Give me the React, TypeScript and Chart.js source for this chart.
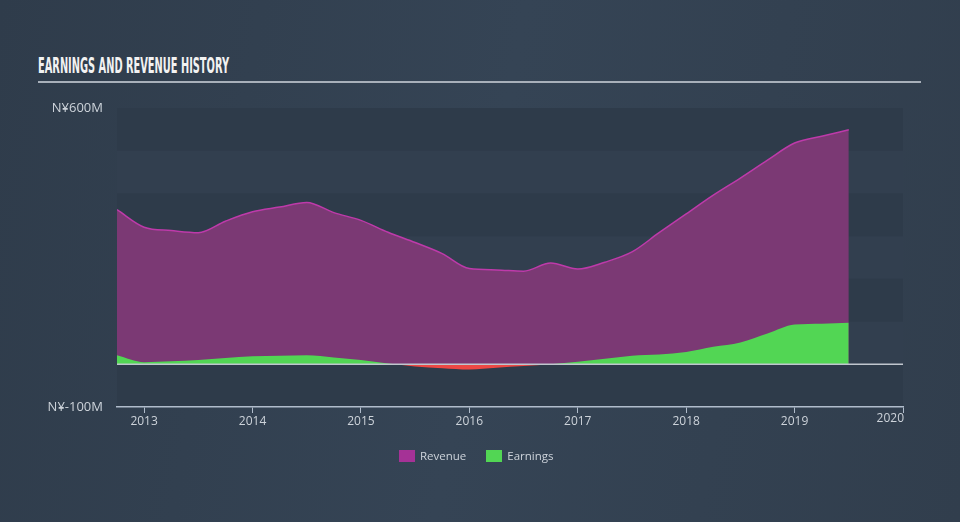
import React, { useEffect, useLayoutEffect, useRef } from 'react';
import { Chart, registerables } from 'chart.js';

Chart.register(...registerables);

// ---- data (N¥ millions) ----
const periods = [
  2012.75, 2013.0, 2013.25, 2013.5, 2013.75, 2014.0, 2014.25, 2014.5, 2014.75,
  2015.0, 2015.25, 2015.5, 2015.75, 2016.0, 2016.25, 2016.5, 2016.75,
  2017.0, 2017.25, 2017.5, 2017.75, 2018.0, 2018.25, 2018.5, 2018.75,
  2019.0, 2019.25, 2019.5,
];
const revenue = [
  362, 321, 313, 308, 335, 357, 368, 379, 355,
  337, 309, 285, 259, 224, 221, 218, 237,
  223, 239, 263, 308, 352, 396, 436, 478,
  518, 534, 549,
];
const earnings = [
  21, 5, 7, 10, 15, 19, 20, 21, 16,
  10, 2, -5, -9, -12, -8, -4, 0,
  6, 13, 20, 23, 29, 41, 51, 72,
  93, 95, 97,
];
const yLabelled = [600, -100];
const xYears = [2013, 2014, 2015, 2016, 2017, 2018, 2019, 2020];
const currency = 'N¥';
const seriesNames = ['Revenue', 'Earnings'];
const titleText = 'EARNINGS AND REVENUE HISTORY';

const COL = {
  bandLight: 'rgb(50,63,79)',
  bandDark: 'rgb(46,59,74)',
  revFill: 'rgb(123,57,116)',
  revLine: 'rgb(190,58,170)',
  revLegend: 'rgb(165,50,150)',
  earnUp: 'rgb(82,214,84)',
  earnDown: 'rgb(236,72,68)',
  axis: 'rgb(176,188,203)',
  zero: 'rgb(192,198,206)',
  text: 'rgb(205,211,218)',
};
const FONT = "'Open Sans', 'DejaVu Sans', sans-serif";

const bandsPlugin = {
  id: 'bands',
  beforeDraw(chart: any) {
    const { ctx, chartArea: a, scales } = chart;
    const y = scales.y;
    ctx.save();
    ctx.fillStyle = COL.bandLight;
    ctx.fillRect(a.left, a.top, a.right - a.left, a.bottom - a.top);
    const ticks = y.ticks.map((t: any) => t.value).sort((p: number, q: number) => p - q);
    for (let i = 0; i < ticks.length - 1; i++) {
      const lo = ticks[i];
      const hi = ticks[i + 1];
      if (i % 2 === 0) {
        const yt = y.getPixelForValue(hi);
        const yb = y.getPixelForValue(lo);
        ctx.fillStyle = COL.bandDark;
        ctx.fillRect(a.left, yt, a.right - a.left, yb - yt);
      }
    }
    ctx.restore();
  },
  afterDatasetsDraw(chart: any) {
    const { ctx, chartArea: a, scales } = chart;
    const y0 = scales.y.getPixelForValue(0);
    ctx.save();
    ctx.strokeStyle = COL.zero;
    ctx.lineWidth = 1.5;
    ctx.beginPath();
    ctx.moveTo(a.left, y0);
    ctx.lineTo(a.right, y0);
    ctx.stroke();
    ctx.restore();
  },
  afterDraw(chart: any) {
    // last x label is kept inside the plot's right edge
    const { ctx, scales } = chart;
    const x = scales.x;
    const last = xYears[xYears.length - 1];
    ctx.save();
    ctx.fillStyle = COL.text;
    ctx.font = `12px ${FONT}`;
    ctx.textAlign = 'right';
    ctx.textBaseline = 'top';
    ctx.fillText(String(last), x.getPixelForValue(last) + 1, x.top + 6);
    ctx.restore();
  },
};

function App() {
  const canvasRef = useRef<HTMLCanvasElement | null>(null);
  const titleRef = useRef<HTMLSpanElement | null>(null);

  useLayoutEffect(() => {
    const el = titleRef.current;
    if (el) {
      el.style.transform = 'none';
      const w = el.getBoundingClientRect().width;
      if (w > 0) el.style.transform = `scaleX(${191 / w})`;
    }
  }, []);

  useEffect(() => {
    const canvas = canvasRef.current;
    if (!canvas) return;
    const chart = new Chart(canvas, {
      type: 'line',
      data: {
        datasets: [
          {
            label: seriesNames[0],
            data: periods.map((p, i) => ({ x: p, y: revenue[i] })),
            borderColor: COL.revLine,
            borderWidth: 1.5,
            backgroundColor: COL.revFill,
            fill: 'origin',
            pointRadius: 0,
            cubicInterpolationMode: 'monotone',
            order: 2,
          },
          {
            label: seriesNames[1],
            data: periods.map((p, i) => ({ x: p, y: earnings[i] })),
            borderColor: 'rgba(0,0,0,0)',
            borderWidth: 1,
            backgroundColor: COL.earnUp,
            fill: { target: 'origin', above: COL.earnUp, below: COL.earnDown },
            pointRadius: 0,
            cubicInterpolationMode: 'monotone',
            order: 1,
          },
        ],
      },
      options: {
        responsive: false,
        animation: false,
        devicePixelRatio: 1,
        layout: { padding: { top: 108, right: 57, bottom: 85, left: 0 } },
        plugins: {
          legend: { display: false },
          tooltip: { enabled: false },
        },
        scales: {
          x: {
            type: 'linear',
            min: periods[0],
            max: xYears[xYears.length - 1],
            afterFit: (s: any) => { s.height = 30; },
            ticks: {
              stepSize: 1,
              includeBounds: false,
              color: COL.text,
              font: { family: FONT, size: 12 },
              padding: 1,
              maxRotation: 0,
              autoSkip: false,
              callback: (v: any) => (xYears.includes(v) && v !== xYears[xYears.length - 1] ? String(v) : ''),
            },
            grid: { display: true, drawOnChartArea: false, drawTicks: true, tickLength: 6, color: COL.axis, lineWidth: 1 },
            border: { display: true, color: COL.axis, width: 1.5 },
          },
          y: {
            type: 'linear',
            min: -100,
            max: 600,
            afterFit: (s: any) => { s.width = 117; },
            ticks: {
              stepSize: 100,
              color: COL.text,
              font: { family: FONT, size: 13 },
              padding: 14,
              callback: (v: any) => (yLabelled.includes(v) ? `${currency}${v}M` : ''),
            },
            grid: { display: false, drawTicks: false },
            border: { display: false },
          },
        },
      },
      plugins: [bandsPlugin],
    } as any);
    return () => chart.destroy();
  }, []);

  const legendItem = (name: string, color: string) => (
    <div style={{ display: 'flex', alignItems: 'center', marginRight: 20 }}>
      <span style={{ display: 'inline-block', width: 16, height: 12, background: color, marginRight: 5 }} />
      <span style={{ color: COL.text, fontSize: 11.5, fontFamily: FONT, lineHeight: '12px' }}>{name}</span>
    </div>
  );

  return (
    <div
      style={{
        position: 'fixed',
        left: 0,
        top: 0,
        width: 960,
        height: 522,
        overflow: 'hidden',
        background: 'linear-gradient(100deg, rgb(47,60,75) 0%, rgb(53,68,85) 50%, rgb(49,62,77) 100%)',
      }}
    >
      <span
        ref={titleRef}
        style={{
          position: 'absolute',
          left: 38,
          top: 56,
          fontFamily: "'Liberation Sans Narrow', 'DejaVu Sans Condensed', 'Liberation Sans', sans-serif",
          fontWeight: 700,
          fontSize: 21,
          lineHeight: '21px',
          color: 'rgb(242,242,242)',
          whiteSpace: 'nowrap',
          transformOrigin: 'left top',
          display: 'inline-block',
        }}
      >
        {titleText}
      </span>
      <div style={{ position: 'absolute', left: 38, top: 81, width: 883, height: 2, background: 'rgb(168,176,186)' }} />
      <canvas ref={canvasRef} width={960} height={522} style={{ position: 'absolute', left: 0, top: 0, width: 960, height: 522 }} />
      <div style={{ position: 'absolute', left: 399, top: 450, display: 'flex', height: 12 }}>
        {legendItem(seriesNames[0], COL.revLegend)}
        {legendItem(seriesNames[1], COL.earnUp)}
      </div>
    </div>
  );
}

export default App;
